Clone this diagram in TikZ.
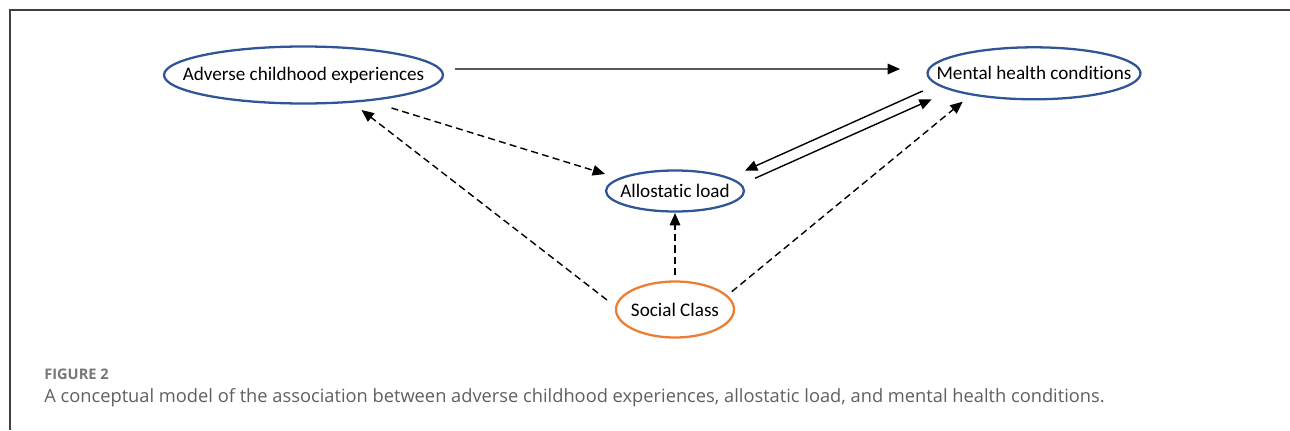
\documentclass[tikz,border=0pt]{standalone}
\usepackage{fontspec}
\setmainfont{Carlito}[Ligatures=NoCommon]
\newfontfamily\capfont{Open Sans}
\usepackage{xcolor}
\usetikzlibrary{shapes.geometric,arrows.meta}

\definecolor{ellblue}{HTML}{2F5597}
\definecolor{ellorange}{HTML}{ED7D31}
\definecolor{capgray}{HTML}{5F5F5F}

\begin{document}
\begin{tikzpicture}[x=0.02cm,y=0.02cm,
    ell/.style={draw=ellblue, line width=1.3pt, ellipse, inner sep=0pt, font=\fontsize{10.9}{13}\selectfont},
    solidarr/.style={line width=0.8pt, -{Triangle[length=7pt,width=6pt]}},
    dasharr/.style={solidarr, dash pattern=on 4pt off 2.4pt}]
            \useasboundingbox (0,0) rectangle (1290,430);

            % frame
            \draw[black!75, line width=0.6pt] (1290,420) -- (10,420) -- (10,0);

            % ellipses
            \node[ell, minimum width=5.58cm, minimum height=1.14cm] (ace) at (303.5,355) {\makebox[0pt]{Adverse childhood experiences}};
            \node[ell, minimum width=4.26cm, minimum height=1.04cm] (mhc) at (1034,356.7) {\makebox[0pt]{Mental health conditions}};
            \node[ell, minimum width=2.76cm, minimum height=0.82cm] (al) at (675,239) {\makebox[0pt]{Allostatic load}};
            \node[ell, draw=ellorange, minimum width=2.36cm, minimum height=1.12cm] (sc) at (675,120.5) {\makebox[0pt]{Social Class}};

            % arrows
            \draw[solidarr] ([shift={(151.5,6)}]ace.center) -- ([shift={(-134,4.3)}]mhc.center);
            \draw[dasharr] ([shift={(88,-33)}]ace.center) -- ([shift={(-70,17)}]al.center);
            \draw[dasharr] ([shift={(-68,9.5)}]sc.center) -- ([shift={(58,-35)}]ace.center);
            \draw[dasharr] ([shift={(0,34.5)}]sc.center) -- ([shift={(0,-22)}]al.center);
            \draw[dasharr] ([shift={(56.7,17.8)}]sc.center) -- ([shift={(-71.3,-28.4)}]mhc.center);
            \draw[solidarr] ([shift={(-111.3,-17.7)}]mhc.center) -- ([shift={(70,20.3)}]al.center);
            \draw[solidarr] ([shift={(80,12.7)}]al.center) -- ([shift={(-102.3,-26)}]mhc.center);

            % caption
            \node[anchor=base west, inner sep=0pt, text=capgray!85, font=\capfont\bfseries\fontsize{8.3}{10}\selectfont] (fig) at (44,50.5) {FIGURE 2};
            \node[anchor=base west, inner sep=0pt, text=capgray, font=\capfont\fontsize{10.4}{13}\selectfont] (cap) at (44,28) {A conceptual model of the association between adverse childhood experiences, allostatic load, and mental health conditions.};
        \end{tikzpicture}
\end{document}
